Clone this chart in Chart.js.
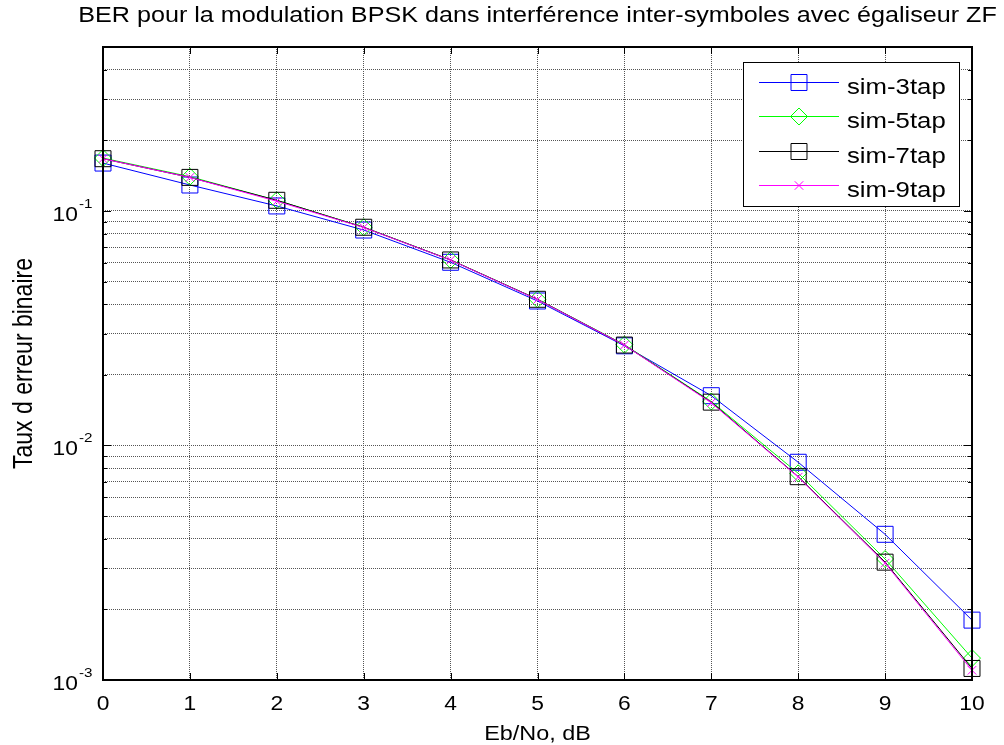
<!DOCTYPE html>
<html lang="fr">
<head>
<meta charset="utf-8">
<title>BER BPSK - égaliseur ZF</title>
<script src="https://cdn.jsdelivr.net/npm/chart.js@4.4.1/dist/chart.umd.min.js"></script>
<style>
    html, body { margin: 0; padding: 0; background: #fff; }
    #berChart { display: block; }
</style>
</head>
<body>
<canvas id="berChart" width="1004" height="745"></canvas>
<script>
// ==== DONNEES ====
const ebno = [0, 1, 2, 3, 4, 5, 6, 7, 8, 9, 10];

const sim3tap = [0.160, 0.129, 0.105, 0.0829, 0.0604, 0.0413, 0.0266, 0.0163, 0.00848, 0.00418, 0.00180];
const sim5tap = [0.168, 0.140, 0.111, 0.0852, 0.0618, 0.0420, 0.0269, 0.0154, 0.00761, 0.00328, 0.00124];
const sim7tap = [0.167, 0.139, 0.111, 0.0852, 0.0618, 0.0420, 0.0268, 0.0153, 0.00736, 0.00318, 0.00112];
const sim9tap = [0.167, 0.139, 0.110, 0.0850, 0.0617, 0.0419, 0.0268, 0.0152, 0.00733, 0.00315, 0.00110];

// graduations de l'axe log (grille majeure + mineure)
const yGrid = [
    0.001, 0.002, 0.003, 0.004, 0.005, 0.006, 0.007, 0.008, 0.009,
    0.01, 0.02, 0.03, 0.04, 0.05, 0.06, 0.07, 0.08, 0.09,
    0.1, 0.2, 0.3, 0.4, 0.5
];
const yDecades = [0.1, 0.01, 0.001];
const yExposants = ['-1', '-2', '-3'];
const xTickLabels = ['0', '1', '2', '3', '4', '5', '6', '7', '8', '9', '10'];

const titre = 'BER pour la modulation BPSK dans interférence inter-symboles avec égaliseur ZF';
const titreX = 'Eb/No, dB';
const titreY = 'Taux d erreur binaire';

const police = "'Liberation Sans', Arial, Helvetica, sans-serif";
const etire = 1.17; // la figure d'origine est un peu étirée en largeur

// ==== OUTILS ====
function toPoints(vals) {
    return ebno.map((x, i) => ({ x: x, y: vals[i] }));
}

function texte(ctx, txt, x, y, taille, align) {
    ctx.save();
    ctx.translate(x, y);
    ctx.scale(etire, 1);
    ctx.font = taille + 'px ' + police;
    ctx.textAlign = align || 'left';
    ctx.textBaseline = 'alphabetic';
    ctx.fillStyle = '#000';
    ctx.fillText(txt, 0, 0);
    ctx.restore();
}

function trait(ctx, x1, y1, x2, y2) {
    ctx.beginPath();
    ctx.moveTo(x1, y1);
    ctx.lineTo(x2, y2);
    ctx.stroke();
}

// Habillage façon MATLAB : cadre, graduations internes, labels, légende
const habillage = {
    id: 'habillage',
    afterDraw(chart) {
        const ctx = chart.ctx;
        const a = chart.chartArea;
        const xs = chart.scales.x;
        const ys = chart.scales.y;

        ctx.save();
        ctx.strokeStyle = '#000';

        // petites graduations vers l'intérieur
        ctx.lineWidth = 1;
        ebno.forEach(v => {
            const px = Math.round(xs.getPixelForValue(v)) + 0.5;
            trait(ctx, px, a.bottom, px, a.bottom - 7);
            trait(ctx, px, a.top, px, a.top + 7);
        });
        yGrid.forEach(v => {
            const py = Math.round(ys.getPixelForValue(v)) + 0.5;
            const L = yDecades.includes(v) ? 8 : 4;
            trait(ctx, a.left, py, a.left + L, py);
            trait(ctx, a.right, py, a.right - L, py);
        });

        // cadre
        ctx.lineWidth = 2;
        ctx.strokeRect(a.left, a.top, a.right - a.left, a.bottom - a.top);

        // labels axe X
        ebno.forEach((v, i) => {
            texte(ctx, xTickLabels[i], xs.getPixelForValue(v), 710, 19.5, 'center');
        });

        // labels axe Y : 10 puissance n
        yDecades.forEach((v, i) => {
            const py = ys.getPixelForValue(v);
            texte(ctx, '10', 78, py + 10, 19.5, 'right');
            texte(ctx, yExposants[i], 79, py - 3, 13, 'left');
        });

        // titres
        texte(ctx, titre, (a.left + a.right) / 2, 22, 21.5, 'center');
        texte(ctx, titreX, (a.left + a.right) / 2, 740, 20, 'center');

        ctx.save();
        ctx.translate(32, (a.top + a.bottom) / 2);
        ctx.rotate(-Math.PI / 2);
        ctx.scale(1, etire);
        ctx.font = '23px ' + police;
        ctx.textAlign = 'center';
        ctx.textBaseline = 'alphabetic';
        ctx.fillStyle = '#000';
        ctx.fillText(titreY, 0, 0);
        ctx.restore();

        // légende
        const lx = 743, ly = 62, lw = 216, lh = 144;
        ctx.fillStyle = '#fff';
        ctx.fillRect(lx, ly, lw, lh);
        ctx.lineWidth = 1;
        ctx.strokeStyle = '#000';
        ctx.strokeRect(lx + 0.5, ly + 0.5, lw, lh);

        chart.data.datasets.forEach((ds, i) => {
            const yy = Math.round(82 + i * 34.4) + 0.5;
            ctx.strokeStyle = ds.borderColor;
            ctx.lineWidth = 1;
            trait(ctx, 759, yy, 839, yy);
            if (Chart.helpers && Chart.helpers.drawPoint) {
                ctx.fillStyle = 'rgba(0,0,0,0)';
                Chart.helpers.drawPoint(ctx, {
                    pointStyle: ds.pointStyle,
                    radius: ds.pointRadius,
                    rotation: 0,
                    borderWidth: 1
                }, 799, yy);
            }
            texte(ctx, ds.label, 847, yy + 11, 22, 'left');
        });

        ctx.restore();
    }
};

// ==== GRAPHIQUE ====
const serie = (label, vals, couleur, style, rayon, ordre) => ({
    label: label,
    data: toPoints(vals),
    borderColor: couleur,
    borderWidth: 1,
    pointStyle: style,
    pointRadius: rayon,
    pointHoverRadius: rayon,
    pointBorderColor: couleur,
    pointBackgroundColor: 'rgba(0,0,0,0)',
    pointBorderWidth: 1,
    tension: 0,
    fill: false,
    clip: false,
    order: ordre
});

const grille = {
    color: '#555',
    lineWidth: 1,
    drawTicks: false
};

new Chart(document.getElementById('berChart'), {
    type: 'line',
    data: {
        datasets: [
            serie('sim-3tap', sim3tap, '#0000ff', 'rect', 11.3, 3),
            serie('sim-5tap', sim5tap, '#00ff00', 'rectRot', 8.5, 2),
            serie('sim-7tap', sim7tap, '#000000', 'rect', 11.3, 1),
            serie('sim-9tap', sim9tap, '#ff00ff', 'crossRot', 6, 0)
        ]
    },
    options: {
        responsive: false,
        animation: false,
        devicePixelRatio: 1,
        layout: { padding: { top: 47, right: 32, left: 0, bottom: 0 } },
        plugins: {
            legend: { display: false },
            title: { display: false },
            tooltip: { enabled: false }
        },
        scales: {
            x: {
                type: 'linear',
                min: 0,
                max: 10,
                ticks: { stepSize: 1, display: false },
                grid: grille,
                border: { display: false, dash: [1, 1] },
                afterFit(s) { s.height = 65; }
            },
            y: {
                type: 'logarithmic',
                min: 0.001,
                max: 0.5,
                ticks: { display: false },
                afterBuildTicks(s) {
                    s.ticks = yGrid.map(v => ({ value: v }));
                },
                grid: grille,
                border: { display: false, dash: [1, 1] },
                afterFit(s) { s.width = 103; }
            }
        }
    },
    plugins: [habillage]
});
</script>
</body>
</html>
